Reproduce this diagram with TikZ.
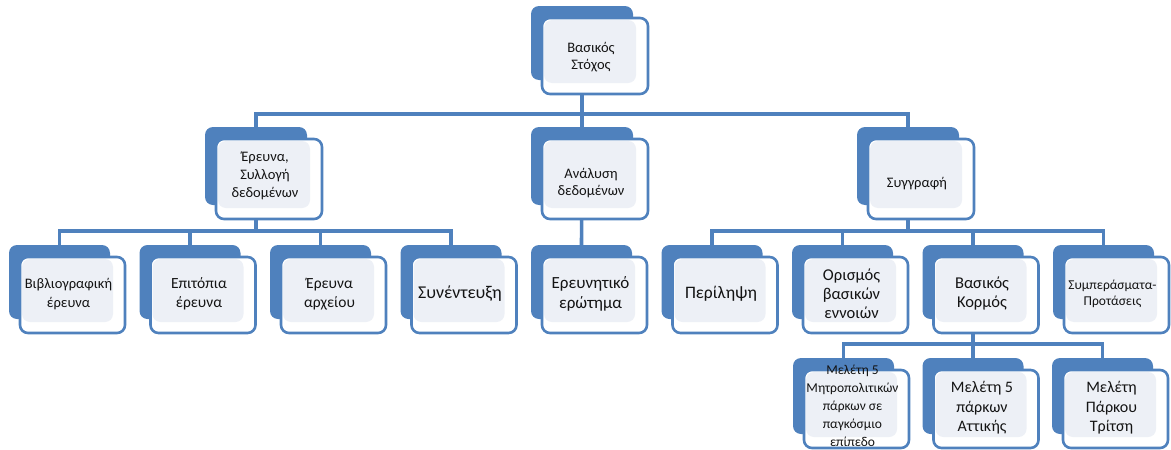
\documentclass[tikz,border=0pt]{standalone}
\usepackage{fontspec}
\setmainfont{Carlito}
\usetikzlibrary{calc}
\definecolor{myblue}{HTML}{4F81BD}
\definecolor{lightfill}{HTML}{EDF0F6}
\definecolor{txt}{HTML}{141414}
\pgfdeclarelayer{bg}
\pgfsetlayers{bg,main}
\tikzset{
  backbox/.style={fill=myblue, rounded corners=8pt, inner sep=0pt, outer sep=0pt, anchor=north west},
  frontbox/.style={draw=myblue, line width=2.6pt, fill=white, rounded corners=8pt, inner sep=0pt, outer sep=0pt, anchor=north west,
    path picture={\fill[lightfill] ([shift={(2pt,-2pt)}]path picture bounding box.north west) rectangle ([shift={(-12pt,11pt)}]path picture bounding box.south east);}},
  lbl/.style={align=center, text=txt, inner sep=0pt},
  conn/.style={draw=myblue, line width=3.6pt},
}
% name, x, y, front width, front height, font size, baselineskip, text shift (down), text
\newcommand\sabox[9]{%
  \node[backbox, minimum width=#4pt-4pt, minimum height=#5pt-2pt] (#1) at (#2,#3) {};
  \node[frontbox, minimum width=#4pt, minimum height=#5pt] (#1f) at ($(#1.north west)+(11,12)$) {};
  \node[lbl, font=\fontsize{#6}{#7}\selectfont] (#1t) at ($(#1f.center)+(-4,#8)$) {#9};
}
\begin{document}
\begin{tikzpicture}[x=1pt,y=-1pt]
\useasboundingbox (0,0) rectangle (1171,450);
% level 1
\sabox{S0}{531}{6}{106}{76}{14.5}{17.5}{1}{Βασικός\\Στόχος}
% level 2
\sabox{A1}{205}{127}{106}{80}{14.5}{18}{-3}{Έρευνα,\\Συλλογή\\δεδομένων}
\sabox{A2}{531}{127}{106}{80}{14.5}{17.5}{4}{Ανάλυση\\δεδομένων}
\sabox{A3}{857}{127}{106}{80}{14.5}{17.5}{5}{Συγγραφή}
% level 3
\sabox{B1}{9}{245}{105}{76}{14.5}{19}{-1}{Βιβλιογραφική\\έρευνα}
\sabox{B2}{139.5}{245}{105}{76}{15.5}{19}{-1}{Επιτόπια\\έρευνα}
\sabox{B3}{270}{245}{105}{76}{15.5}{19}{-1}{Έρευνα\\αρχείου}
\sabox{B4}{400.5}{245}{105}{76}{18}{20}{-1}{Συνέντευξη}
\sabox{B5}{531}{245}{105}{76}{17}{20}{-1}{Ερευνητικό\\ερώτημα}
\sabox{B6}{661.5}{245}{105}{76}{17.5}{20}{-1}{Περίληψη}
\sabox{B7}{792}{245}{105}{76}{16.5}{19}{-1}{Ορισμός\\βασικών\\εννοιών}
\sabox{B8}{922.5}{245}{105}{76}{16.5}{19}{-1}{Βασικός\\Κορμός}
\sabox{B9}{1053}{245}{105}{76}{13.5}{16}{-1}{Συμπεράσματα-\\Προτάσεις}
% level 4
\sabox{C1}{793}{358}{105}{78}{13.5}{18}{-3}{Μελέτη 5\\Μητροπολιτικών\\πάρκων σε\\παγκόσμιο\\επίπεδο}
\sabox{C2}{922.5}{358}{105}{78}{16}{19.5}{-1}{Μελέτη 5\\πάρκων\\Αττικής}
\sabox{C3}{1052}{358}{105}{78}{16}{19.5}{-1}{Μελέτη\\Πάρκου\\Τρίτση}
% connectors
\coordinate (bar1) at (0,114);
\coordinate (bar2) at (0,231);
\coordinate (bar3) at (0,344);
\begin{pgfonlayer}{bg}
  \foreach \c in {A1,A2,A3}
    \draw[conn] (S0.center) -- (S0.center |- bar1) -| (\c.north);
  \foreach \c in {B1,B2,B3,B4}
    \draw[conn] (A1.center) -- (A1.center |- bar2) -| (\c.north);
  \draw[conn] (A2.center) -- (B5.north);
  \foreach \c in {B6,B7,B8,B9}
    \draw[conn] (A3.center) -- (A3.center |- bar2) -| (\c.north);
  \foreach \c in {C1,C2,C3}
    \draw[conn] (B8.center) -- (B8.center |- bar3) -| (\c.north);
\end{pgfonlayer}
\end{tikzpicture}
\end{document}
